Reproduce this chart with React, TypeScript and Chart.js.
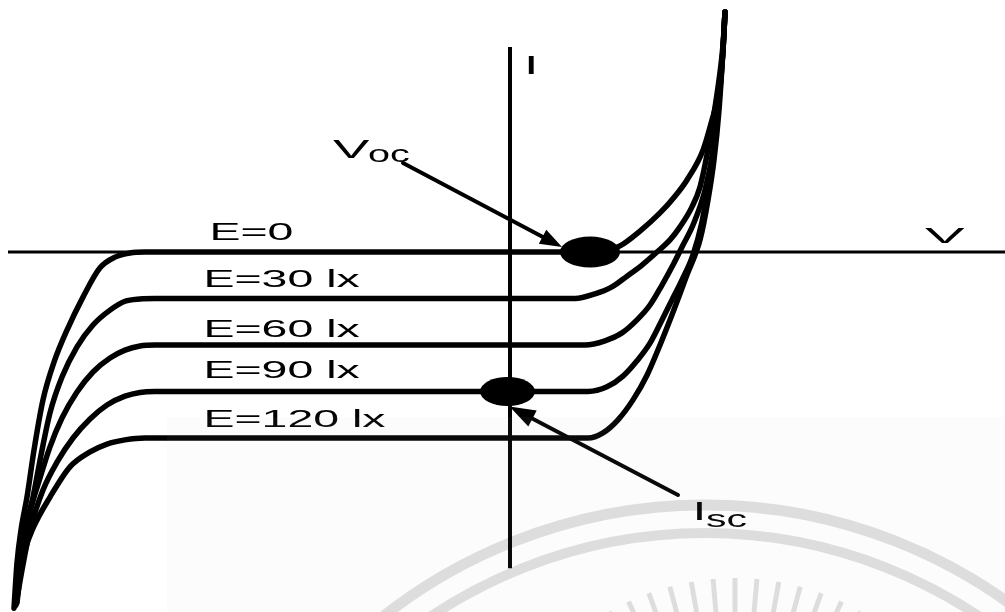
import React, { useEffect, useRef } from 'react';
import { Chart, registerables } from 'chart.js';

Chart.register(...registerables);

// Illuminance of each I–V curve (label text) and its flat photocurrent level
const curveLabels = ['E=0', 'E=30 lx', 'E=60 lx', 'E=90 lx', 'E=120 lx'];
const photoLevels = [0, -1, -2, -3, -4];

// [V, I] samples of each curve (arbitrary units)
const curveE0: [number, number][] = [
  [-9.92, -7.66], [-9.86, -6.69], [-9.78, -5.98], [-9.66, -5.27], [-9.52, -4.26],
  [-9.34, -3.18], [-9.12, -2.37], [-8.86, -1.68], [-8.54, -0.97], [-8.2, -0.34],
  [-7.9, -0.11], [-7.6, -0.02], [-7.3, 0], [1.6, 0], [1.9, 0.02], [2.2, 0.13],
  [2.6, 0.45], [3.0, 0.84], [3.3, 1.2], [3.54, 1.55], [3.86, 2.19], [4.04, 2.84],
  [4.14, 3.27], [4.26, 4.34], [4.3, 5.16],
];
const curveE30: [number, number][] = [
  [-9.9, -7.61], [-9.8, -6.62], [-9.68, -5.87], [-9.54, -5.27], [-9.38, -4.37],
  [-9.2, -3.46], [-8.96, -2.69], [-8.66, -2.04], [-8.34, -1.57], [-8.0, -1.25],
  [-7.7, -1.06], [-7.4, -1.01], [-7.1, -1], [1.3, -1], [1.7, -0.9], [2.04, -0.75],
  [2.34, -0.52], [2.64, -0.28], [2.94, 0], [3.2, 0.26], [3.4, 0.54], [3.64, 0.97],
  [3.8, 1.4], [3.94, 2.09], [4.06, 2.84], [4.18, 3.7], [4.26, 4.45], [4.3, 5.16],
];
const curveE60: [number, number][] = [
  [-9.9, -7.61], [-9.76, -6.62], [-9.6, -5.61], [-9.4, -4.86], [-9.2, -4.19],
  [-8.96, -3.57], [-8.66, -3.01], [-8.34, -2.58], [-8.0, -2.28], [-7.7, -2.11],
  [-7.4, -2.02], [-7.1, -2], [1.5, -2], [1.9, -1.91], [2.24, -1.74], [2.54, -1.46],
  [2.8, -1.14], [3.04, -0.71], [3.26, -0.28], [3.46, 0.15], [3.66, 0.58], [3.9, 1.33],
  [4.06, 2.19], [4.18, 3.27], [4.26, 4.34], [4.3, 5.16],
];
const curveE90: [number, number][] = [
  [-9.88, -7.59], [-9.76, -6.84], [-9.6, -5.98], [-9.34, -5.12], [-9.06, -4.52],
  [-8.74, -4.0], [-8.4, -3.59], [-8.06, -3.29], [-7.7, -3.1], [-7.4, -3.02],
  [-7.1, -3], [1.56, -3], [1.94, -2.9], [2.26, -2.67], [2.54, -2.34], [2.8, -1.96],
  [3.04, -1.46], [3.24, -1.03], [3.44, -0.6], [3.66, -0.06], [3.84, 0.65], [3.96, 1.38],
  [4.08, 2.19], [4.18, 3.27], [4.26, 4.34], [4.3, 5.16],
];
const curveE120: [number, number][] = [
  [-9.86, -7.55], [-9.8, -6.95], [-9.7, -6.41], [-9.54, -5.94], [-9.2, -5.27],
  [-8.8, -4.62], [-8.4, -4.3], [-8.06, -4.13], [-7.7, -4.04], [-7.3, -4],
  [1.56, -4], [1.86, -3.89], [2.16, -3.61], [2.46, -3.18], [2.74, -2.65], [3.0, -2.0],
  [3.24, -1.35], [3.54, -0.49], [3.8, 0.26], [3.96, 1.12], [4.08, 1.98], [4.18, 3.05],
  [4.26, 4.34], [4.3, 5.16],
];
const curves = [curveE0, curveE30, curveE60, curveE90, curveE120];

// Axis extents
const vAxisExtent = [-10.04, 9.9];
const iAxisExtent = [-6.8, 4.41];

// Marked operating points
const vocPoint = [1.6, 0];
const iscPoint = [-0.05, photoLevels[3]];

const FONT = '"Liberation Sans", Arial, Helvetica, sans-serif';

function wideText(ctx: CanvasRenderingContext2D, text: string, x: number, base: number, size: number, sx: number) {
  ctx.save();
  ctx.font = `${size}px ${FONT}`;
  ctx.textAlign = 'left';
  ctx.textBaseline = 'alphabetic';
  ctx.translate(x, base);
  ctx.scale(sx, 1);
  ctx.fillText(text, 0, 0);
  ctx.restore();
}

function arrow(ctx: CanvasRenderingContext2D, x0: number, y0: number, x1: number, y1: number, len: number, half: number) {
  const a = Math.atan2(y1 - y0, x1 - x0);
  const bx = x1 - Math.cos(a) * len;
  const by = y1 - Math.sin(a) * len;
  ctx.save();
  ctx.lineWidth = 4;
  ctx.lineCap = 'round';
  ctx.beginPath();
  ctx.moveTo(x0, y0);
  ctx.lineTo(bx + Math.cos(a) * 2, by + Math.sin(a) * 2);
  ctx.stroke();
  ctx.beginPath();
  ctx.moveTo(x1, y1);
  ctx.lineTo(bx + Math.sin(a) * half, by - Math.cos(a) * half);
  ctx.lineTo(bx - Math.sin(a) * half, by + Math.cos(a) * half);
  ctx.closePath();
  ctx.fill();
  ctx.restore();
}

const annotations = {
  id: 'diodeAnnotations',
  afterDatasetsDraw(chart: any) {
    const { ctx } = chart;
    const sx = chart.scales.x;
    const sy = chart.scales.y;
    const px = (v: number) => sx.getPixelForValue(v);
    const py = (i: number) => sy.getPixelForValue(i);

    ctx.save();
    ctx.fillStyle = '#000';
    ctx.strokeStyle = '#000';

    // Voc and Isc markers
    const vx = px(vocPoint[0]);
    const vy = py(vocPoint[1]);
    ctx.beginPath();
    ctx.ellipse(vx, vy, 30, 15.5, 0, 0, Math.PI * 2);
    ctx.fill();
    const ix = px(iscPoint[0]);
    const iy = py(iscPoint[1]);
    ctx.beginPath();
    ctx.ellipse(ix, iy, 27.5, 14.5, 0, 0, Math.PI * 2);
    ctx.fill();

    // Pointer arrows
    arrow(ctx, 403, 163, vx - 28, vy - 5, 22, 8);
    arrow(ctx, 678, 495, ix + 2, iy + 15, 26, 9);

    // Curve labels
    const labelBase = [240, 287, 337, 378, 427];
    curveLabels.forEach((t, k) => {
      wideText(ctx, t, k === 0 ? 209.5 : 203.5, labelBase[k], 23, 2.02);
    });

    // Axis names
    wideText(ctx, 'I', 524, 74, 26, 2);
    wideText(ctx, 'V', 925, 243, 22, 2.7);

    // Voc label
    wideText(ctx, 'V', 333, 158, 26, 2.1);
    wideText(ctx, 'oc', 368, 162, 23, 1.72);

    // Isc label
    wideText(ctx, 'I', 692.5, 520, 25, 2);
    wideText(ctx, 'sc', 706, 527, 23, 1.78);

    // Faint seal in the lower right corner
    ctx.fillStyle = 'rgba(200,200,200,0.05)';
    ctx.fillRect(167, 417, 1005 - 167, 612 - 417);
    ctx.beginPath();
    ctx.rect(167, 417, 1005 - 167, 612 - 417);
    ctx.clip();
    ctx.strokeStyle = 'rgba(0,0,0,0.12)';
    ctx.lineWidth = 11;
    ctx.beginPath();
    ctx.arc(705, 1025, 520, Math.PI, Math.PI * 2);
    ctx.stroke();
    ctx.lineWidth = 10;
    ctx.beginPath();
    ctx.arc(705, 1025, 492, Math.PI, Math.PI * 2);
    ctx.stroke();
    ctx.lineWidth = 5;
    for (let deg = -120; deg <= -60; deg += 5) {
      const a = (deg * Math.PI) / 180;
      ctx.beginPath();
      ctx.moveTo(735 + Math.cos(a) * 195, 830 + Math.sin(a) * 195);
      ctx.lineTo(735 + Math.cos(a) * 252, 830 + Math.sin(a) * 252);
      ctx.stroke();
    }
    ctx.restore();
  },
};

export default function App() {
  const canvasRef = useRef<HTMLCanvasElement | null>(null);

  useEffect(() => {
    const canvas = canvasRef.current;
    if (!canvas) return;

    const axisStyle = { showLine: true, pointRadius: 0, borderColor: '#000', tension: 0 };
    const datasets: any[] = [
      {
        ...axisStyle,
        label: 'V',
        borderWidth: 3,
        data: [{ x: vAxisExtent[0], y: 0 }, { x: vAxisExtent[1], y: 0 }],
      },
      {
        ...axisStyle,
        label: 'I',
        borderWidth: 4,
        data: [{ x: 0, y: iAxisExtent[0] }, { x: 0, y: iAxisExtent[1] }],
      },
      ...curves.map((pts, k) => ({
        label: curveLabels[k],
        showLine: true,
        pointRadius: 0,
        borderColor: '#000',
        borderWidth: 5.5,
        borderCapStyle: 'round',
        borderJoinStyle: 'round',
        cubicInterpolationMode: 'monotone',
        data: pts.map(([v, i]) => ({ x: v, y: i })),
      })),
    ];

    const chart = new Chart(canvas, {
      type: 'scatter',
      data: { datasets },
      options: {
        animation: false,
        responsive: false,
        events: [],
        layout: { padding: 0 },
        plugins: { legend: { display: false }, tooltip: { enabled: false } },
        scales: {
          x: { type: 'linear', min: -10.2, max: 9.9, display: false },
          y: { type: 'linear', min: (252 - 612) / 46.5, max: 252 / 46.5, display: false },
        },
      },
      plugins: [annotations],
    });

    return () => chart.destroy();
  }, []);

  return (
    <div style={{ position: 'fixed', left: 0, top: 0, width: 1005, height: 612, background: '#fff' }}>
      <canvas ref={canvasRef} width={1005} height={612} />
    </div>
  );
}
